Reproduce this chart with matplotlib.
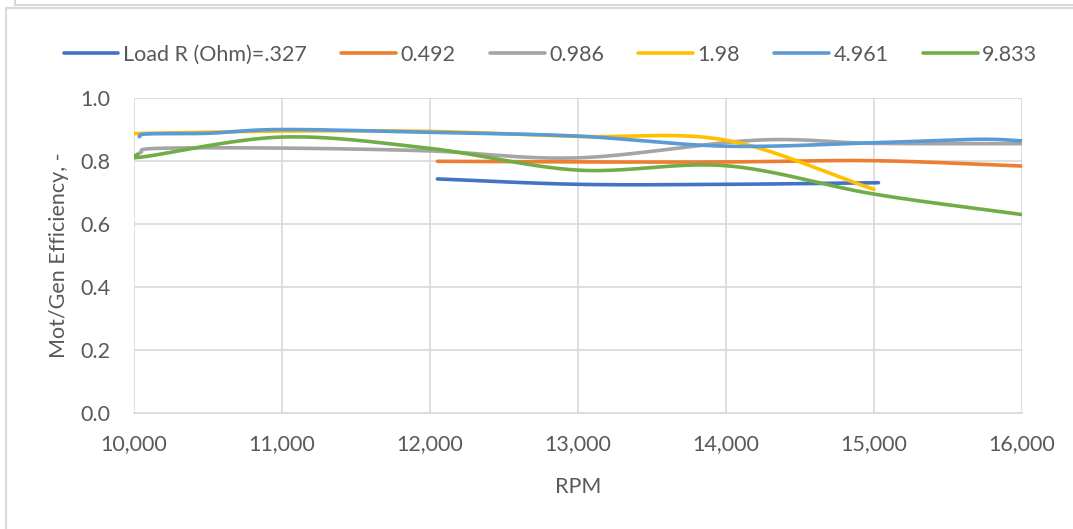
import numpy as np
import matplotlib
matplotlib.use('Agg')
import matplotlib.pyplot as plt
from matplotlib.lines import Line2D

# ─── Datos ───────────────────────────────────────────────────────────────────
RPM_0327 = [12050, 13000, 14000, 15030]
EFF_0327 = [0.743, 0.726, 0.726, 0.731]

RPM_0492 = [12050, 13000, 14000, 15000, 16000]
EFF_0492 = [0.799, 0.797, 0.797, 0.801, 0.784]

RPM_0986 = [10040, 10150, 11000, 12000, 13000, 14200, 15000, 16000]
EFF_0986 = [0.826, 0.840, 0.841, 0.832, 0.810, 0.866, 0.856, 0.855]

RPM_198 = [10000, 11000, 12000, 13000, 14000, 15000]
EFF_198 = [0.887, 0.895, 0.894, 0.878, 0.866, 0.710]

RPM_4961 = [10035, 10090, 10500, 11000, 12000, 13000, 14000, 15000, 15700, 16000]
EFF_4961 = [0.877, 0.886, 0.888, 0.900, 0.891, 0.879, 0.847, 0.858, 0.869, 0.864]

RPM_9833 = [10025, 10060, 11000, 12000, 13000, 14000, 15000, 16000]
EFF_9833 = [0.822, 0.813, 0.876, 0.840, 0.771, 0.785, 0.695, 0.630]

ETIQUETAS = ["Load R (Ohm)=.327", "0.492", "0.986", "1.98", "4.961", "9.833"]
COLORES = ["#4472C4", "#ED7D31", "#A5A5A5", "#FFC000", "#5B9BD5", "#70AD47"]
SERIES = [(RPM_0327, EFF_0327), (RPM_0492, EFF_0492), (RPM_0986, EFF_0986),
          (RPM_198, EFF_198), (RPM_4961, EFF_4961), (RPM_9833, EFF_9833)]

X_TICKS = [10000, 11000, 12000, 13000, 14000, 15000, 16000]
Y_TICKS = [0.0, 0.2, 0.4, 0.6, 0.8, 1.0]


# ─── Suavizado tipo Excel (Catmull-Rom en espacio de pantalla) ───────────────
def suavizar(xs, ys, n=40):
    sx, sy = 888.0 / 6000.0, 315.0
    P = np.column_stack([(np.array(xs) - 10000) * sx, np.array(ys) * sy])
    if len(P) < 3:
        return xs, ys
    P = np.vstack([2 * P[0] - P[1], P, 2 * P[-1] - P[-2]])
    out = []
    t = np.linspace(0, 1, n)[:, None]
    for i in range(1, len(P) - 2):
        p0, p1, p2, p3 = P[i - 1], P[i], P[i + 1], P[i + 2]
        seg = 0.5 * ((2 * p1) + (-p0 + p2) * t + (2 * p0 - 5 * p1 + 4 * p2 - p3) * t ** 2
                     + (-p0 + 3 * p1 - 3 * p2 + p3) * t ** 3)
        out.append(seg if i == 1 else seg[1:])
    out = np.vstack(out)
    return out[:, 0] / sx + 10000, out[:, 1] / sy


plt.rcParams.update({
    "font.family": ["Lato", "DejaVu Sans"],
    "axes.facecolor": "white",
    "figure.facecolor": "white",
})

FS = 15.5
GRIS = "#595959"

fig = plt.figure(figsize=(10.73, 5.29), dpi=100)
ax = fig.add_axes([134 / 1073, 1 - 413 / 529, 888 / 1073, 315 / 529])

for (xs, ys), etiqueta, color in zip(SERIES, ETIQUETAS, COLORES):
    xx, yy = suavizar(xs, ys)
    ax.plot(xx, yy, color=color, linewidth=2.6, solid_capstyle='round', label=etiqueta, zorder=3)

ax.set_xlim(10000, 16000)
ax.set_ylim(0, 1.0)
ax.set_xticks(X_TICKS)
ax.set_xticklabels([f"{v:,}" for v in X_TICKS])
ax.set_yticks(Y_TICKS)
ax.set_yticklabels([f"{v:.1f}" for v in Y_TICKS])
ax.grid(True, color="#D9D9D9", linewidth=1.2, zorder=0)
ax.set_axisbelow(True)
for lado in ["top", "right", "left"]:
    ax.spines[lado].set_visible(False)
ax.spines["bottom"].set_color("#D9D9D9")
ax.spines["bottom"].set_linewidth(1.2)
ax.tick_params(length=0, labelsize=FS, labelcolor=GRIS)
ax.tick_params(axis='x', pad=15)
ax.tick_params(axis='y', pad=17)

ax.set_xlabel("RPM", fontsize=FS, color=GRIS, labelpad=17)
ax.set_ylabel("Mot/Gen Efficiency, -", fontsize=FS, color=GRIS, labelpad=8)

fig.legend(loc="center", bbox_to_anchor=(0.513, 1 - 55 / 529), ncol=6, frameon=False,
           fontsize=FS, handlelength=2.55, columnspacing=1.6, handletextpad=0.2,
           labelcolor=GRIS)

# ─── Bordes del marco ────────────────────────────────────────────────────────
W, H = 1073, 529
borde = dict(color="#D9D9D9", linewidth=1.5, transform=fig.transFigure)
fig.add_artist(Line2D([15 / W, 1], [1 - 4.5 / H, 1 - 4.5 / H], **borde))
fig.add_artist(Line2D([15 / W, 15 / W], [1, 1 - 4.5 / H], **borde))
fig.add_artist(Line2D([5.5 / W, 1], [1 - 7.5 / H, 1 - 7.5 / H], **borde))
fig.add_artist(Line2D([5.5 / W, 5.5 / W], [1 - 7.5 / H, 0], **borde))

fig.savefig("out.png", dpi=100, facecolor="white")
